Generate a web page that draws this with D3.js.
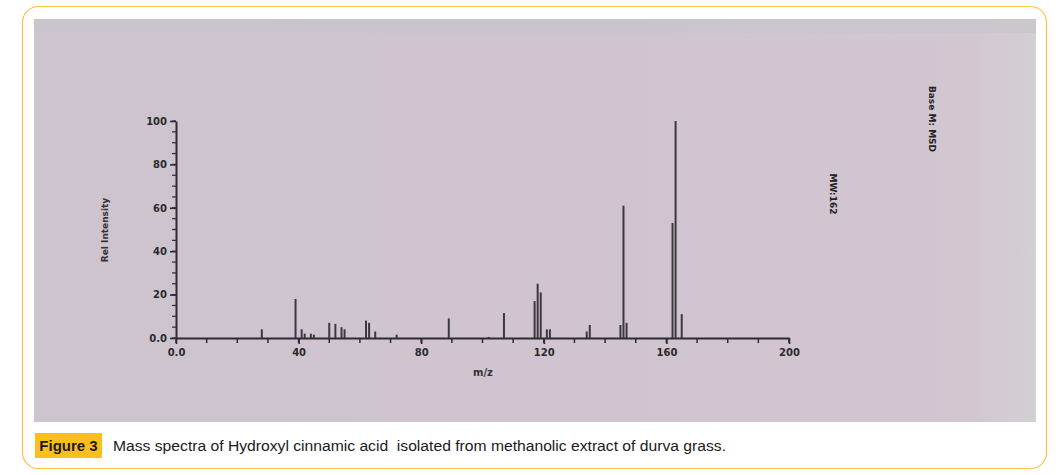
<!DOCTYPE html>
<html><head><meta charset="utf-8">
<script src="https://cdn.jsdelivr.net/npm/d3@7"></script>
<style>body{margin:0;background:#fff}svg{display:block}</style>
</head><body>
<svg id="c" width="1063" height="475"></svg>
<script>
// ---- data ----
const mz =        [28, 39, 41, 42, 44, 45, 50, 52, 54, 55, 62, 63, 65, 72, 89, 102, 107, 117, 118, 119, 121, 122, 134, 135, 145, 146, 147, 162, 163, 165];
const intensity = [4, 18, 4, 2, 2, 1.5, 7, 6.5, 5, 4, 8, 7, 3, 1.5, 9, 0.5, 11.5, 17, 25, 21, 4, 4, 3, 6, 6, 61, 7, 53, 100, 11];
const xTicks = [0, 40, 80, 120, 160, 200];
const xTickLabels = ["0.0", "40", "80", "120", "160", "200"];
const yTicks = [0, 20, 40, 60, 80, 100];
const yTickLabels = ["0.0", "20", "40", "60", "80", "100"];
const xTitle = "m/z";
const yTitle = "Rel Intensity";
const sideNotes = ["Base M: MSD", "MW:162"];
const figLabel = "Figure 3";
const caption = "Mass spectra of Hydroxyl cinnamic acid  isolated from methanolic extract of durva grass.";

const svg = d3.select("#c");

// outer frame
svg.append("rect").attr("x", 22.5).attr("y", 6.5).attr("width", 1024).attr("height", 462)
  .attr("rx", 16).attr("fill", "#fff").attr("stroke", "#f7c54a").attr("stroke-width", 1.2);

// scanned image background
const defs = svg.append("defs");
const g1 = defs.append("linearGradient").attr("id", "bg").attr("x1", 0).attr("x2", 1).attr("y1", 0).attr("y2", 0);
g1.append("stop").attr("offset", "0").attr("stop-color", "#cdc4ce");
g1.append("stop").attr("offset", "0.6").attr("stop-color", "#d0c4d0");
g1.append("stop").attr("offset", "0.93").attr("stop-color", "#d2c6d1");
g1.append("stop").attr("offset", "1").attr("stop-color", "#d3cfd3");
svg.append("rect").attr("x", 34).attr("y", 19).attr("width", 1002).attr("height", 403).attr("fill", "url(#bg)");
svg.append("rect").attr("x", 34).attr("y", 19).attr("width", 1002).attr("height", 14).attr("fill", "#c8c6cc").attr("opacity", 0.8);

// scales
const x = d3.scaleLinear().domain([0, 200]).range([176, 789]);
const y = d3.scaleLinear().domain([0, 100]).range([338, 121]);
const ink = "#2e2a30";

// minor ticks
svg.append("g").selectAll("line").data(d3.range(0, 201, 10)).join("line")
  .attr("x1", d => x(d)).attr("x2", d => x(d)).attr("y1", y(0)).attr("y2", y(0) + 5)
  .attr("stroke", ink).attr("stroke-width", 1.5);
svg.append("g").selectAll("line").data(d3.range(0, 101, 5)).join("line")
  .attr("x1", x(0) - 4).attr("x2", x(0)).attr("y1", d => y(d)).attr("y2", d => y(d))
  .attr("stroke", ink).attr("stroke-width", 1.2);

// axes via d3
const xAxis = d3.axisBottom(x).tickValues(xTicks).tickFormat((d, i) => xTickLabels[i]).tickSize(6).tickSizeOuter(0);
const yAxis = d3.axisLeft(y).tickValues(yTicks).tickFormat((d, i) => yTickLabels[i]).tickSize(6).tickSizeOuter(0);
const gx = svg.append("g").attr("transform", `translate(0,${y(0)})`).call(xAxis);
const gy = svg.append("g").attr("transform", `translate(${x(0)},0)`).call(yAxis);
[gx, gy].forEach(g => {
  g.select(".domain").attr("stroke", ink).attr("stroke-width", 2);
  g.selectAll(".tick line").attr("stroke", ink).attr("stroke-width", 1.6);
  g.selectAll("text").attr("fill", "#2a2a2a").attr("font-family", "DejaVu Sans").attr("font-size", 10).attr("font-weight", "bold");
});
gx.selectAll("text").attr("dy", "0.9em");

// peaks
svg.append("g").selectAll("line").data(mz.map((m, i) => [m, intensity[i]])).join("line")
  .attr("x1", d => x(d[0])).attr("x2", d => x(d[0]))
  .attr("y1", y(0)).attr("y2", d => y(d[1]))
  .attr("stroke", "#3c383e").attr("stroke-width", 2);

// axis titles
svg.append("text").attr("x", 483).attr("y", 376).attr("text-anchor", "middle")
  .attr("font-family", "DejaVu Sans").attr("font-size", 10).attr("font-weight", "bold").attr("fill", "#333").text(xTitle);
svg.append("text").attr("transform", "translate(108,230) rotate(-90)").attr("text-anchor", "middle")
  .attr("font-family", "DejaVu Sans").attr("font-size", 9).attr("font-weight", "bold").attr("fill", "#333").text(yTitle);

// rotated side notes
svg.append("text").attr("transform", "translate(929,119) rotate(90)").attr("text-anchor", "middle")
  .attr("font-family", "DejaVu Sans").attr("font-size", 9).attr("font-weight", "bold").attr("fill", "#222").text(sideNotes[0]);
svg.append("text").attr("transform", "translate(830,194) rotate(90)").attr("text-anchor", "middle")
  .attr("font-family", "DejaVu Sans").attr("font-size", 9).attr("font-weight", "bold").attr("fill", "#222").text(sideNotes[1]);

// caption
svg.append("rect").attr("x", 35).attr("y", 433).attr("width", 67).attr("height", 25).attr("fill", "#fbbf1c");
svg.append("text").attr("x", 68.5).attr("y", 451).attr("text-anchor", "middle")
  .attr("font-family", "Liberation Sans Narrow, Liberation Sans").attr("font-size", 15).attr("font-weight", "bold").attr("fill", "#1a1a1a").text(figLabel);
svg.append("text").attr("x", 113).attr("y", 451).attr("xml:space", "preserve")
  .attr("textLength", 613).attr("lengthAdjust", "spacingAndGlyphs")
  .attr("font-family", "Liberation Sans Narrow, Liberation Sans").attr("font-size", 15.5).attr("fill", "#1a1a1a").text(caption);
</script>
</body></html>
